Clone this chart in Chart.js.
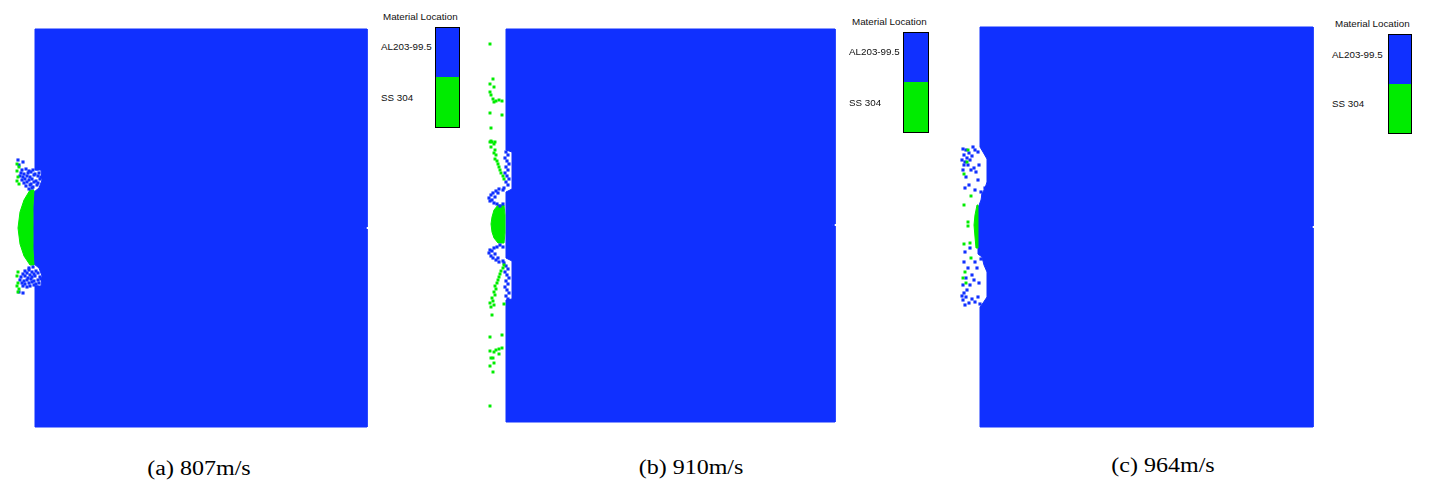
<!DOCTYPE html>
<html>
<head>
<meta charset="utf-8">
<script src="https://cdn.jsdelivr.net/npm/chart.js@4"></script>
<style>
  body { margin: 0; background: #fff; }
  #wrap { position: relative; width: 1429px; height: 482px; overflow: hidden; }
  canvas { position: absolute; top: 0; }
  .lg-title, .lg-label { position: absolute; font: 9.8px "Liberation Sans", Arial, sans-serif; color: #111; line-height: 10px; white-space: nowrap; }
  .lg-box { position: absolute; border: 1px solid #000; box-sizing: border-box; }
  .caption { position: absolute; font: 20px "Liberation Serif", "Times New Roman", serif; color: #000; white-space: nowrap; transform: translateX(-50%) scaleX(1.2); line-height: 20px; }
</style>
</head>
<body>
<div id="wrap">
  <canvas id="panelA" width="380" height="440" style="left:0px"></canvas>
  <canvas id="panelB" width="380" height="440" style="left:470px"></canvas>
  <canvas id="panelC" width="380" height="440" style="left:945px"></canvas>
</div>
<script>
// materials and colours of the material-location plot
const materials = ['AL203-99.5', 'SS 304'];
const materialColors = ['#1030ff', '#00ec00'];
const captions = ['(a) 807m/s', '(b) 910m/s', '(c) 964m/s'];

// (a) 807 m/s  -- plate outline, steel lens, ceramic and steel fragments
const plateA = [[0,199],[332,199],[332,1],[329,0],[332,-1],[332,-199],[0,-199],[0,-58],[6,-58],[7,-48],[4,-40],[-1,-36],[-2,0],[-1,36],[4,40],[7,48],[6,58],[0,58],[0,199]];
const lensA = [[-5,38],[-11,28],[-15,16],[-17,0],[-15,-16],[-11,-28],[-5,-37],[-1,-37],[-2,-22],[-2,0],[-2,22],[-1,38],[-5,38]];
const blueA = [
  [-13,58],[-9,59],[-6,57],[-2,58],[2,59],
  [-14,55],[-11,54],[-7,55],[-4,56],[0,54],[4,55],
  [-15,52],[-12,51],[-8,52],[-5,51],[-1,53],[3,52],[6,51],
  [-13,48],[-10,49],[-6,48],[-3,49],[1,47],[5,49],
  [-11,45],[-8,46],[-4,44],[-1,46],[3,45],
  [-9,42],[-5,43],[-2,41],[2,43],
  [-6,39],[-3,40],
  [-17,68],[-12,66],[-16,63],
  [-6,-40],[-2,-39],
  [-10,-43],[-6,-42],[-3,-44],[1,-43],
  [-12,-46],[-8,-45],[-5,-47],[-1,-46],[3,-45],
  [-14,-49],[-10,-48],[-7,-50],[-3,-49],[0,-48],[5,-49],
  [-15,-52],[-11,-53],[-8,-52],[-4,-51],[-1,-53],[3,-52],[6,-51],
  [-13,-55],[-10,-56],[-6,-55],[-3,-54],[1,-56],[4,-55],
  [-12,-58],[-8,-59],[-5,-58],[-1,-57],[2,-59],
  [-16,-64],[-12,-65]
];
const greenA = [[-18,64],[-16,61],[-18,57],[-17,51],[-18,47],[-16,44],[-17,-44],[-18,-48],[-17,-55],[-18,-58],[-16,-61],[-17,-64]];

// (b) 910 m/s
const plateB = [[0,196],[329,196],[329,1],[326,0],[329,-1],[329,-197],[0,-197],[0,-75],[6,-74],[6,-36],[0,-33],[0,33],[6,36],[6,73],[0,75],[0,196]];
const lensB = [[-8,20],[-12,15],[-14,8],[-15,1],[-14,-7],[-12,-13],[-8,-18],[-2,-18],[-1,-8],[-1,1],[-1,10],[-2,20],[-8,20]];
const blueB = [
  [0,73],[2,70],[-1,67],[1,64],[3,61],[0,58],[2,55],[-1,52],[1,49],[3,46],[0,43],[2,40],[-2,37],
  [-3,35],[-7,36],[-10,34],[-13,32],[-15,30],[-17,27],[-16,24],[-14,25],[-12,22],[-9,21],[-6,19],[-3,21],[-8,32],[-11,28],
  [-6,-20],[-9,-22],[-12,-23],[-14,-26],[-16,-25],[-17,-28],[-15,-31],[-13,-33],[-10,-35],[-7,-37],[-3,-36],[-8,-33],[-11,-29],[-3,-22],
  [-2,-38],[0,-41],[2,-44],[-1,-47],[1,-50],[3,-53],[0,-56],[2,-59],[-1,-62],[1,-65],[3,-68],[0,-71],[2,-74]
];
const greenB = [
  [-16,181],[-13,146],[-16,141],[-12,138],[-16,133],[-15,130],[-13,126],[-10,124],[-7,125],[-4,124],[-12,123],
  [-4,110],[-16,112],[-15,97],[-16,83],[-14,83],[-11,83],[-15,84],[-12,81],[-15,78],[-11,75],
  [-12,72],[-10,70],[-11,66],[-9,64],[-8,61],[-7,58],[-6,55],[-5,52],[-3,49],[-2,46],
  [-2,-40],[-3,-43],[-5,-46],[-6,-49],[-7,-52],[-8,-55],[-9,-58],[-11,-61],[-10,-64],[-12,-67],[-11,-70],[-14,-73],
  [-13,-76],[-16,-78],[-12,-80],[-15,-82],[-2,-79],[-14,-90],[-16,-112],[-4,-110],[-16,-126],[-10,-125],[-7,-124],
  [-4,-123],[-7,-129],[-12,-127],[-15,-133],[-13,-133],[-12,-138],[-16,-141],[-13,-147],[-16,-181]
];

// (c) 964 m/s
const plateC = [[0,200],[333,200],[333,1],[330,0],[333,-1],[333,-200],[0,-200],[0,-80],[3,-76],[7,-70],[7,-45],[4,-38],[2,-30],[-2,-27],[-2,19],[1,27],[2,33],[5,39],[7,45],[7,68],[3,75],[0,80],[0,200]];
const lensC = [[-3,22],[-5,12],[-6,2],[-5,-10],[-4,-21],[-2,-21],[-2,22],[-3,22]];
const blueC = [
  [-17,78],[-14,77],[-11,74],[-16,72],[-13,69],[-10,67],[-8,71],[-5,77],[-2,75],[-15,65],[-12,62],[-6,59],[-1,62],
  [-4,55],[-17,57],[-9,57],[-14,50],[-2,47],[-11,42],[-5,37],[1,35],[-15,39],[-18,67],[-7,80],[-16,62],[3,32],[5,39],
  [-17,-73],[-14,-70],[-11,-76],[-8,-72],[-16,-66],[-13,-63],[-5,-75],[-2,-70],[0,-77],[-17,-58],[-10,-58],[-6,-53],
  [-14,-51],[-1,-56],[-8,-48],[-3,-41],[-12,-41],[-5,-35],[-16,-35],[1,-32],[-15,-25],[-10,-21],[-18,-69],[-15,-78]
];
const greenC = [[-13,65],[-16,53],[-9,31],[-16,22],[-12,5],[-12,1],[-10,-16],[-16,-17],[-9,-31],[-15,-45],[-17,-51],[-14,-56],[-12,77]];

function pts(a) {
  return a.map(p => ({ x: p[0], y: p[1] }));
}

function shape(data, color, order) {
  return {
    data: pts(data), showLine: true, fill: 'shape', tension: 0,
    backgroundColor: color, borderColor: color, borderWidth: 1,
    pointRadius: 0, order: order
  };
}

function bits(data, color, r, order) {
  return {
    data: pts(data), showLine: false, pointStyle: 'rect',
    pointRadius: r, pointBorderWidth: 0, pointBackgroundColor: color, order: order
  };
}

function panel(id, xr, yr, plate, lens, blue, green) {
  new Chart(document.getElementById(id), {
    type: 'scatter',
    data: {
      datasets: [
        bits(green, materialColors[1], 2.1, 0),
        bits(blue, materialColors[0], 2.2, 1),
        shape(lens, materialColors[1], 2),
        shape(plate, materialColors[0], 3)
      ]
    },
    options: {
      responsive: false,
      animation: false,
      events: [],
      layout: { padding: 0, autoPadding: false },
      scales: {
        x: { type: 'linear', min: xr[0], max: xr[1], display: false },
        y: { type: 'linear', min: yr[0], max: yr[1], display: false }
      },
      plugins: { legend: { display: false }, tooltip: { enabled: false } }
    }
  });
}

panel('panelA', [-35, 345], [-212, 228], plateA, lensA, blueA, greenA);
panel('panelB', [-36, 344], [-215, 225], plateB, lensB, blueB, greenB);
panel('panelC', [-35, 345], [-213, 227], plateC, lensC, blueC, greenC);

// material legends and captions
const wrap = document.getElementById('wrap');
const legends = [
  { tx: 383, ty: 12, bx: 435, by: 27, bw: 25, bh: 101, lx: 381, ly: [42, 93] },
  { tx: 852, ty: 17, bx: 903, by: 32, bw: 26, bh: 101, lx: 849, ly: [47, 98] },
  { tx: 1335, ty: 19, bx: 1388, by: 34, bw: 24, bh: 100, lx: 1332, ly: [50, 99] }
];
const captionPos = [[199, 458], [691, 457], [1163, 455]];

function add(cls, css, text) {
  const d = document.createElement('div');
  d.className = cls;
  d.style.cssText = css;
  if (text) d.textContent = text;
  wrap.appendChild(d);
  return d;
}

legends.forEach(l => {
  add('lg-title', `left:${l.tx}px;top:${l.ty}px`, 'Material Location');
  add('lg-box', `left:${l.bx}px;top:${l.by}px;width:${l.bw}px;height:${l.bh}px;` +
    `background:linear-gradient(${materialColors[0]} 50%, ${materialColors[1]} 50%)`);
  materials.forEach((m, i) => add('lg-label', `left:${l.lx}px;top:${l.ly[i]}px`, m));
});

captions.forEach((c, i) => add('caption', `left:${captionPos[i][0]}px;top:${captionPos[i][1]}px`, c));
</script>
</body>
</html>
